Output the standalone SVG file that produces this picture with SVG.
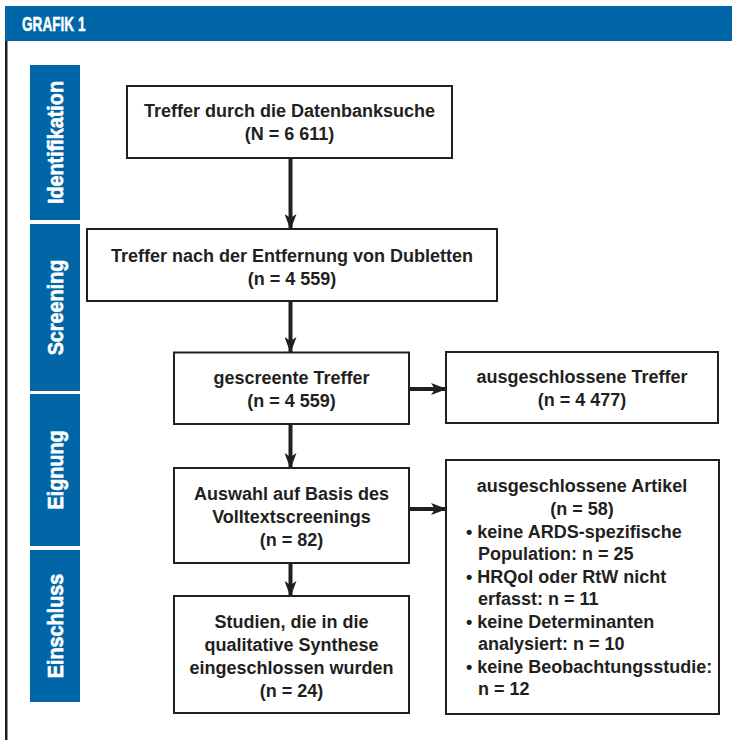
<svg xmlns="http://www.w3.org/2000/svg" width="732" height="740" viewBox="0 0 732 740">
<defs>
<style>
.box{fill:#fff;stroke:#231f20;stroke-width:2}
.t{font-family:"Liberation Sans",Arial,sans-serif;font-size:18px;font-weight:bold;fill:#231f20;text-anchor:middle}
.tl{text-anchor:start}
.side{fill:#0066a8}
.st{font-family:"Liberation Sans",Arial,sans-serif;font-size:22px;font-weight:bold;fill:#fff;stroke:#fff;stroke-width:0.6;text-anchor:middle}
.conn{stroke:#231f20;stroke-width:4;fill:none}
</style>
<marker id="ah" markerWidth="16" markerHeight="12" refX="15" refY="6" orient="auto" markerUnits="userSpaceOnUse">
<path d="M0,0 L16,6 L0,12 L4,6 Z" fill="#231f20"/>
</marker>
</defs>
<rect x="0" y="0" width="732" height="740" fill="#fff"/>
<g id="header">
<rect x="5" y="6" width="727" height="35" fill="#0066a8"/>
<text transform="translate(22,30.5) scale(0.68,1)" font-family="Liberation Sans,Arial,sans-serif" font-size="20" font-weight="bold" fill="#fff" stroke="#fff" stroke-width="0.5">GRAFIK 1</text>
<rect x="5" y="41" width="2.5" height="699" fill="#231f20"/>
</g>
<g id="phase-identifikation">
<rect class="side" x="30" y="65" width="50" height="155"/>
<text class="st" transform="translate(62.5,142.5) rotate(-90) scale(0.9,1)">Identifikation</text>
</g>
<g id="phase-screening">
<rect class="side" x="30" y="224" width="50" height="167"/>
<text class="st" transform="translate(62.5,307.5) rotate(-90) scale(0.9,1)">Screening</text>
</g>
<g id="phase-eignung">
<rect class="side" x="30" y="394" width="50" height="152"/>
<text class="st" transform="translate(62.5,470) rotate(-90) scale(0.9,1)">Eignung</text>
</g>
<g id="phase-einschluss">
<rect class="side" x="30" y="550" width="50" height="152"/>
<text class="st" transform="translate(62.5,626) rotate(-90) scale(0.9,1)">Einschluss</text>
</g>
<g id="connectors">
<line class="conn" x1="290.5" y1="158" x2="290.5" y2="229" marker-end="url(#ah)"/>
<line class="conn" x1="290.5" y1="301" x2="290.5" y2="352" marker-end="url(#ah)"/>
<line class="conn" x1="290.5" y1="424" x2="290.5" y2="468" marker-end="url(#ah)"/>
<line class="conn" x1="290.5" y1="563" x2="290.5" y2="596" marker-end="url(#ah)"/>
<line class="conn" x1="409" y1="389" x2="446" y2="389" marker-end="url(#ah)"/>
<line class="conn" x1="409" y1="509" x2="446" y2="509" marker-end="url(#ah)"/>
</g>
<g id="n1">
<rect class="box" x="127" y="86" width="325" height="72"/>
<text class="t" x="289.5" y="117">Treffer durch die Datenbanksuche</text>
<text class="t" x="289.5" y="140">(N = 6 611)</text>
</g>
<g id="n2">
<rect class="box" x="87" y="229" width="410" height="72"/>
<text class="t" x="292" y="262">Treffer nach der Entfernung von Dubletten</text>
<text class="t" x="292" y="285">(n = 4 559)</text>
</g>
<g id="n3">
<rect class="box" x="174" y="352.5" width="235" height="71.5"/>
<text class="t" x="291.5" y="384">gescreente Treffer</text>
<text class="t" x="291.5" y="407">(n = 4 559)</text>
</g>
<g id="n4">
<rect class="box" x="446" y="352" width="272" height="71"/>
<text class="t" x="582" y="383">ausgeschlossene Treffer</text>
<text class="t" x="582" y="406">(n = 4 477)</text>
</g>
<g id="n5">
<rect class="box" x="174" y="468" width="235" height="95"/>
<text class="t" x="291.5" y="500">Auswahl auf Basis des</text>
<text class="t" x="291.5" y="523">Volltextscreenings</text>
<text class="t" x="291.5" y="546">(n = 82)</text>
</g>
<g id="n6">
<rect class="box" x="174" y="596" width="235" height="117"/>
<text class="t" x="291.5" y="628">Studien, die in die</text>
<text class="t" x="291.5" y="651">qualitative Synthese</text>
<text class="t" x="291.5" y="674">eingeschlossen wurden</text>
<text class="t" x="291.5" y="697">(n = 24)</text>
</g>
<g id="n7">
<rect class="box" x="446" y="460" width="273" height="254"/>
<text class="t" x="582" y="492">ausgeschlossene Artikel</text>
<text class="t" x="582" y="515">(n = 58)</text>
<text class="t tl" x="466" y="538">• keine ARDS-spezifische</text>
<text class="t tl" x="478" y="560">Population: n = 25</text>
<text class="t tl" x="466" y="583">• HRQol oder RtW nicht</text>
<text class="t tl" x="478" y="605">erfasst: n = 11</text>
<text class="t tl" x="466" y="628">• keine Determinanten</text>
<text class="t tl" x="478" y="650">analysiert: n = 10</text>
<text class="t tl" x="466" y="673">• keine Beobachtungsstudie:</text>
<text class="t tl" x="478" y="695">n = 12</text>
</g>
</svg>
